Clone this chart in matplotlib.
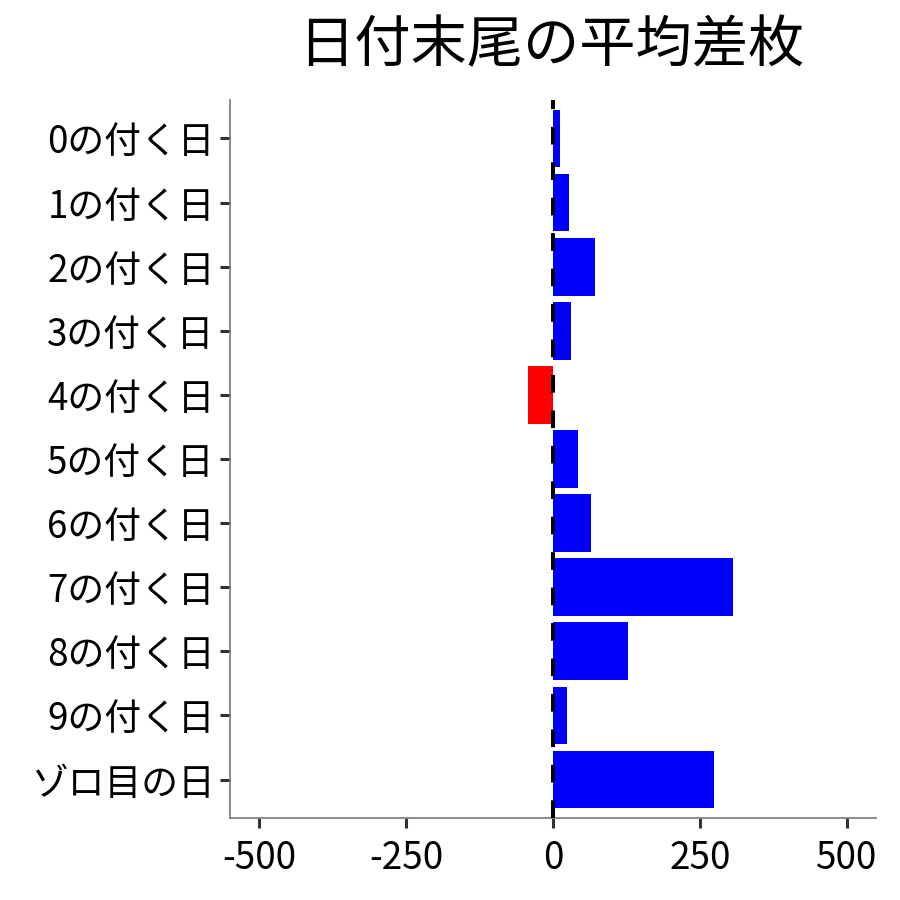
import matplotlib
matplotlib.use("Agg")
import matplotlib.pyplot as plt
import numpy as np

plt.rcParams['font.family'] = ['Noto Sans CJK JP', 'DejaVu Sans']

categories = ['0の付く日', '1の付く日', '2の付く日', '3の付く日', '4の付く日',
              '5の付く日', '6の付く日', '7の付く日', '8の付く日', '9の付く日',
              'ゾロ目の日']
values = [12, 27, 71, 31, -43, 43, 65, 306, 128, 24, 274]
xticks = [-500, -250, 0, 250, 500]

fig = plt.figure(figsize=(9, 9), dpi=100)
ax = fig.add_axes([0.2556, 0.0911, 0.7178, 0.7978])

y = np.arange(len(categories))
colors = ['blue' if v >= 0 else 'red' for v in values]
ax.barh(y, values, height=0.9, color=colors, zorder=2)
ax.axvline(0, color='black', linewidth=2.9, dashes=[4.4, 4.4], zorder=3)

ax.set_xlim(-550, 550)
ax.set_ylim(len(categories) - 0.4, -0.6)
ax.set_yticks(y)
ax.set_yticklabels(categories)
ax.set_xticks(xticks)
ax.set_xticklabels([str(t) for t in xticks])

ax.tick_params(axis='both', labelsize=26.5, length=7, width=2.2, color='#333333',
               labelcolor='black', pad=4)
ax.tick_params(axis='x', pad=8)
for side in ['top', 'right']:
    ax.spines[side].set_visible(False)
for side in ['left', 'bottom']:
    ax.spines[side].set_color('#777777')
    ax.spines[side].set_linewidth(1.2)

fig.text(0.612, 0.948, '日付末尾の平均差枚', ha='center', va='center', fontsize=40.5)

fig.savefig('out.png', dpi=100)
